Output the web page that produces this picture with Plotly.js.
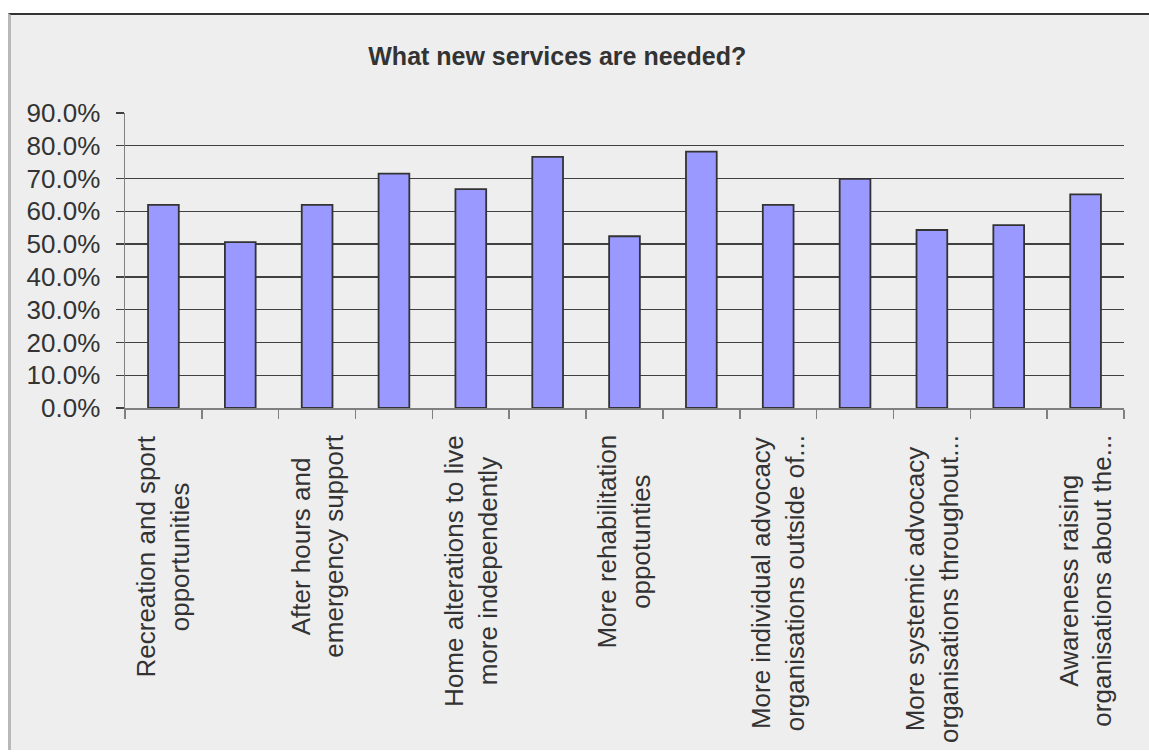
<!DOCTYPE html>
<html>
<head>
<meta charset="utf-8">
<script src="https://cdn.plot.ly/plotly-3.0.1.min.js"></script>
<style>
  html, body { margin: 0; padding: 0; background: #ffffff; }
  #chart {
    position: absolute; left: 8px; top: 13px;
    width: 1138px; height: 735px;
    border-top: 2px solid #333333;
    border-left: 3px solid #b8b8b8;
  }
</style>
</head>
<body>
<div id="chart"></div>
<script>
// Category labels (only every other category carries a visible label in the source)
const categories = [
  "Recreation and sport<br>opportunities",
  "",
  "After hours and<br>emergency support",
  "",
  "Home alterations to live<br>more independently",
  "",
  "More rehabilitation<br>oppotunties",
  "",
  "More individual advocacy<br>organisations outside of...",
  "",
  "More systemic advocacy<br>organisations throughout...",
  "",
  "Awareness raising<br>organisations about the..."
];
// Share of respondents (%)
const values = [62.0, 50.6, 62.0, 71.5, 66.8, 76.6, 52.4, 78.2, 62.0, 69.9, 54.3, 55.8, 65.2];
const yTickVals = [0, 10, 20, 30, 40, 50, 60, 70, 80, 90];
const yTickText = ["0.0%", "10.0%", "20.0%", "30.0%", "40.0%", "50.0%", "60.0%", "70.0%", "80.0%", "90.0%"];
const chartTitle = "What new services are needed?";

const idx = categories.map((_, i) => i);
const boundaries = categories.map((_, i) => i - 0.5).concat([categories.length - 0.5]);

const FONT = "Liberation Sans, Arial, sans-serif";

const trace = {
  type: "bar",
  x: idx,
  y: values,
  width: 0.4,
  marker: { color: "#9999ff", line: { color: "#333333", width: 1.8 } },
  hoverinfo: "skip"
};

const annotations = categories
  .map((c, i) => ({ c, i }))
  .filter(o => o.c !== "")
  .map(o => ({
    text: o.c,
    x: o.i, xref: "x",
    y: -0.085, yref: "paper",
    xanchor: "center", yanchor: "top",
    textangle: -90,
    align: "center",
    showarrow: false,
    font: { family: FONT, size: 26, color: "#333333" }
  }));

const layout = {
  width: 1138, height: 735,
  paper_bgcolor: "#eeeeee",
  plot_bgcolor: "#eeeeee",
  margin: { l: 114, r: 25, t: 98, b: 342 },
  title: {
    text: chartTitle,
    x: 0.48, xanchor: "center",
    y: 1 - 41 / 735, yanchor: "middle",
    font: { family: FONT, size: 25, color: "#333333", weight: "bold" }
  },
  showlegend: false,
  bargap: 0.6,
  xaxis: {
    type: "linear",
    range: [-0.5, categories.length - 0.5],
    tickmode: "array",
    tickvals: boundaries,
    showticklabels: false,
    ticks: "outside", ticklen: 9, tickwidth: 1.5, tickcolor: "#808080",
    showgrid: false, zeroline: false,
    showline: true, linecolor: "#808080", linewidth: 1.5,
    fixedrange: true
  },
  yaxis: {
    range: [0, 90],
    tickmode: "array",
    tickvals: yTickVals,
    ticktext: yTickText,
    ticks: "outside", ticklen: 8, tickwidth: 1.3, tickcolor: "#404040",
    ticklabelstandoff: 10,
    showgrid: true, gridcolor: "#404040", gridwidth: 1.3,
    zeroline: false,
    showline: true, linecolor: "#808080", linewidth: 1.5,
    tickfont: { family: FONT, size: 26, color: "#333333" },
    fixedrange: true
  },
  annotations: annotations
};

Plotly.newPlot("chart", [trace], layout, { displayModeBar: false, staticPlot: true });
</script>
</body>
</html>
